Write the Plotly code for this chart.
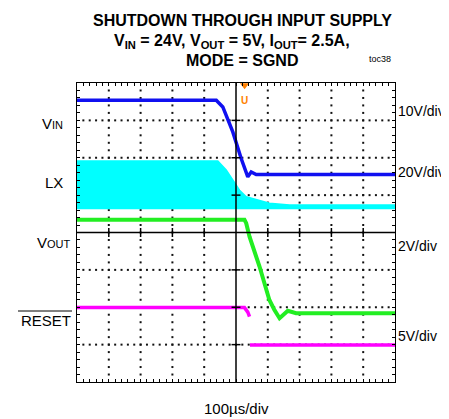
import numpy as np
import plotly.graph_objects as go

# ---------------- data (time in microseconds, trigger at t = 0) ----------------
vin_t = [-500, -62, -41.5, -25.8, -10.1, 16.3, 26.7, 37.1, 47.8, 63.5, 500]
vin_v = [24.0, 24.0, 22.2, 18.65, 15.5, 8.4, 5.7, 3.5, 4.8, 4.1, 4.1]

lx_up_t = [-500, -57.2, -30.8, -10, 11.1, 32.1, 74, 105, 168, 500]
lx_up_v = [24.7, 24.7, 19.8, 14.4, 9.0, 5.5, 3.7, 2.1, 1.1, 1.1]
lx_lo_t = [-500, 500]
lx_lo_v = [-0.7, -0.7]

vout_t = [-500, 26.7, 32.1, 42.5, 74, 105, 121, 137, 163, 189, 500]
vout_v = [5.0, 5.0, 4.82, 4.10, 2.50, 0.71, 0.17, -0.27, 0.13, 0.0, 0.0]

reset_t = [-500, 26.7, 37.1, 42.5, None, 44, 500]
reset_v = [5.0, 5.0, 4.4, 3.8, None, 0.0, 0.0]

trigger_t = 27

# channel settings: volts/div and ground position (divisions from centre)
VIN_SCALE, VIN_POS = 10, 1.14
LX_SCALE, LX_POS = 20, 0.68
VOUT_SCALE, VOUT_POS = 2, -2.16
RESET_SCALE, RESET_POS = 5, -3.01


def to_div(vals, scale, pos):
    return [None if v is None else pos + v / scale for v in vals]


# ---------------- layout geometry (page offset of 8px from body margin) ----------------
OFF = 8
W, H = 441, 411
L, R, T, B = 69, 54, 75, 37
PW, PH = W - L - R, H - T - B


def px(x):
    return (x - OFF - L) / PW


def py(y):
    return (H - B - (y - OFF)) / PH


fig = go.Figure()

# dotted graticule
gx, gy = [], []
for t in [-400, -300, -200, -100, 100, 200, 300, 400]:
    for y in np.arange(-3.8, 3.81, 0.2):
        gx.append(t)
        gy.append(y)
for y in [-3, -2, -1, 1, 2, 3]:
    for t in np.arange(-480, 481, 20):
        gx.append(t)
        gy.append(y)
fig.add_trace(go.Scatter(x=gx, y=gy, mode="markers", hoverinfo="skip",
                         marker=dict(symbol="square", size=2, color="#111111",
                                     line=dict(width=0))))

# LX band
fig.add_trace(go.Scatter(
    x=lx_up_t + lx_lo_t[::-1],
    y=to_div(lx_up_v, LX_SCALE, LX_POS) + to_div(lx_lo_v[::-1], LX_SCALE, LX_POS),
    mode="lines", fill="toself", fillcolor="#00ffff",
    line=dict(color="#00ffff", width=1.5)))

# VIN
fig.add_trace(go.Scatter(x=vin_t, y=to_div(vin_v, VIN_SCALE, VIN_POS), mode="lines",
                         line=dict(color="#1010f0", width=3.5)))
# VOUT
fig.add_trace(go.Scatter(x=vout_t, y=to_div(vout_v, VOUT_SCALE, VOUT_POS), mode="lines",
                         line=dict(color="#22ee22", width=4)))
# RESET
fig.add_trace(go.Scatter(x=reset_t, y=to_div(reset_v, RESET_SCALE, RESET_POS), mode="lines",
                         line=dict(color="#ff00ff", width=3.5), connectgaps=False))

# trigger marker
fig.add_trace(go.Scatter(x=[trigger_t], y=[3.94], mode="markers",
                         marker=dict(symbol="triangle-down", size=8, color="#ff8000",
                                     line=dict(width=0))))

# centre cross and its ticks
shapes = [
    dict(type="line", x0=0, x1=0, y0=-4, y1=4, line=dict(color="black", width=1.5)),
    dict(type="line", x0=-500, x1=500, y0=0, y1=0, line=dict(color="black", width=1.5)),
]
for t in [-400, -300, -200, -100, 100, 200, 300, 400]:
    shapes.append(dict(type="line", x0=t, x1=t, y0=-0.12, y1=0.12,
                       line=dict(color="black", width=1.5)))
for y in [-3, -2, -1, 1, 2, 3]:
    shapes.append(dict(type="line", x0=-14, x1=14, y0=y, y1=y,
                       line=dict(color="black", width=1.5)))

# RESET overline
shapes.append(dict(type="line", xref="paper", yref="paper", x0=px(18), x1=px(72),
                   y0=py(311), y1=py(311), line=dict(color="black", width=1)))

FONT = "Liberation Sans, Arial, sans-serif"
TFONT = "Liberation Sans Narrow, Arial Narrow, Liberation Sans, Arial, sans-serif"

ann = []


def add(text, x, y, size=15, xanchor="center", family=FONT):
    ann.append(dict(text=text, x=px(x), y=py(y), xref="paper", yref="paper",
                    xanchor=xanchor, yanchor="middle", showarrow=False,
                    font=dict(family=family, size=size, color="black")))


add("<b>SHUTDOWN THROUGH INPUT SUPPLY</b>", 242.5, 21, 16, family=TFONT)
add("<b>V<sub>IN</sub> = 24V, V<sub>OUT</sub> = 5V, I<sub>OUT</sub>= 2.5A,</b>", 232, 41, 16, family=TFONT)
add("<b>MODE = SGND</b>", 242, 60, 16, family=TFONT)
add("toc38", 380, 59, 9)

add("V<span style='font-size:11px'>IN</span>", 65, 123, 15, xanchor="right")
add("LX", 65, 182, 15, xanchor="right")
add("V<span style='font-size:11px'>OUT</span>", 73, 242, 15, xanchor="right")
add("RESET", 73, 320, 15, xanchor="right")

add("10V/div", 396, 111, 14, xanchor="left")
add("20V/div", 396, 172, 14, xanchor="left")
add("2V/div", 396, 246, 14, xanchor="left")
add("5V/div", 396, 336, 14, xanchor="left")

add("100µs/div", 236, 408, 15)

ann.append(dict(text="<b>U</b>", x=trigger_t, y=py(93), xref="x", yref="paper",
                showarrow=False, font=dict(family=FONT, size=10, color="#ff8000")))

fig.update_layout(
    width=W, height=H, margin=dict(l=L, r=R, t=T, b=B, pad=0),
    paper_bgcolor="white", plot_bgcolor="white", showlegend=False,
    shapes=shapes, annotations=ann,
    xaxis=dict(range=[-500, 500], showgrid=False, zeroline=False, showticklabels=False,
               ticks="inside", tick0=-500, dtick=20, ticklen=3, tickcolor="black",
               showline=True, linecolor="black", linewidth=1, mirror="allticks"),
    yaxis=dict(range=[-4, 4], showgrid=False, zeroline=False, showticklabels=False,
               ticks="inside", tick0=-4, dtick=0.2, ticklen=3, tickcolor="black",
               showline=True, linecolor="black", linewidth=1, mirror="allticks"),
)

fig.write_html("out.html")
